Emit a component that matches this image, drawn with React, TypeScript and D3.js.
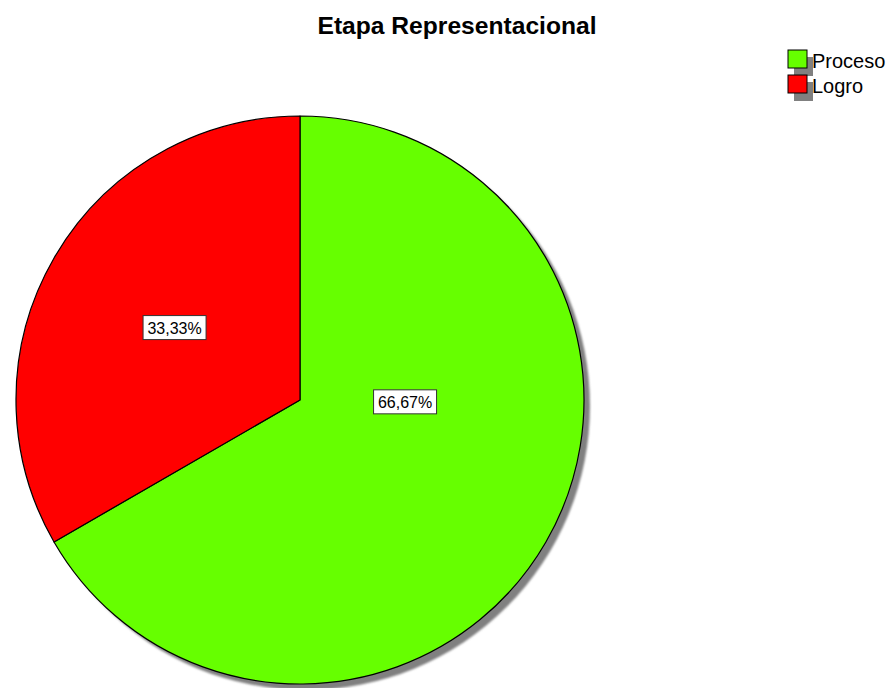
import * as d3 from "d3";

const categories = ["Proceso", "Logro"];
const values = [66.67, 33.33];
const colors = ["#66ff00", "#ff0000"];
const labelTexts = ["66,67%", "33,33%"];
// label anchor in polar terms: [angle deg clockwise from top, fraction of radius]
const labelPolar: [number, number][] = [[91, 0.37], [300, 0.51]];

const W = 890;
const H = 688;
const cx = 300;
const cy = 400;
const r = 284;

export default function App() {
  const pie = d3.pie<number>().sort(null).value(d => d)(values);
  const arc = d3.arc<d3.PieArcDatum<number>>().innerRadius(0).outerRadius(r);
  const font = "'Liberation Sans', Arial, sans-serif";

  return (
    <svg width={W} height={H} style={{ position: "absolute", left: 0, top: 0, background: "#fff" }}>
      <defs>
        <filter id="blur" x="-10%" y="-10%" width="120%" height="120%">
          <feGaussianBlur stdDeviation="0.8" />
        </filter>
      </defs>
      <text x={457} y={34} textAnchor="middle" fontFamily={font} fontWeight="bold" fontSize={24} textLength={279} lengthAdjust="spacingAndGlyphs" fill="#000">
        Etapa Representacional
      </text>
      <circle cx={cx + 6} cy={cy + 6} r={r} fill="#808080" filter="url(#blur)" />
      <g transform={`translate(${cx},${cy})`}>
        {pie.map((p, i) => (
          <path key={i} d={arc(p) || ""} fill={colors[i]} stroke="#000" strokeWidth={1.2} strokeLinejoin="round" />
        ))}
        {pie.map((p, i) => {
          const [deg, frac] = labelPolar[i];
          const a = (deg * Math.PI) / 180;
          const x = Math.sin(a) * r * frac;
          const y = -Math.cos(a) * r * frac;
          const bw = 63;
          const bh = 24;
          return (
            <g key={"l" + i} transform={`translate(${x},${y})`}>
              <rect x={-bw / 2} y={-bh / 2} width={bw} height={bh} fill="#fff" stroke="#333" strokeWidth={1} />
              <text x={0} y={6} textAnchor="middle" fontFamily={font} fontSize={16} fill="#000">
                {labelTexts[i]}
              </text>
            </g>
          );
        })}
      </g>
      {categories.map((c, i) => {
        const y0 = 50 + i * 25;
        return (
          <g key={c}>
            <rect x={794} y={y0 + 7} width={19} height={19} fill="#808080" />
            <rect x={788} y={y0} width={19} height={18} fill={colors[i]} stroke="#000" strokeWidth={1} />
            <text x={812} y={y0 + 18} fontFamily={font} fontSize={20} fill="#000">
              {c}
            </text>
          </g>
        );
      })}
    </svg>
  );
}
